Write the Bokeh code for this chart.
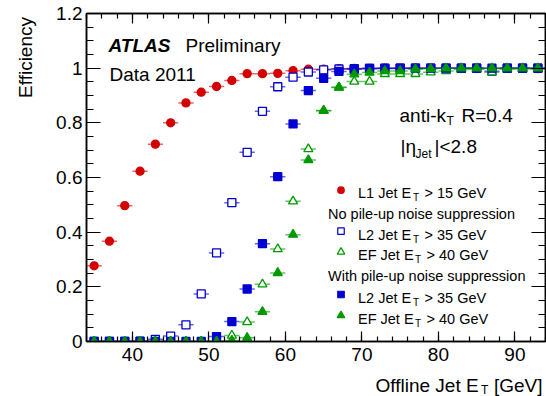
import math
from bokeh.plotting import figure
from bokeh.models import Range1d, LinearAxis, FixedTicker, CustomJSTickFormatter, Label
from bokeh.layouts import row, column
from bokeh.embed import file_html
from bokeh.resources import INLINE

# ---------------- data ----------------
et = [35, 37, 39, 41, 43, 45, 47, 49, 51, 53, 55, 57, 59, 61, 63, 65, 67, 69, 71, 73,
      75, 77, 79, 81, 83, 85, 87, 89, 91, 93]
half_bin = 1.0

l1_eff = [0.277, 0.367, 0.497, 0.623, 0.722, 0.800, 0.873, 0.912, 0.933, 0.955,
          0.980, 0.980, 0.981, 0.991, 0.996, 0.996, 0.998, 0.999, 0.999, 1.000,
          0.999, 1.000, 1.000, 1.000, 1.000, 1.000, 0.999, 1.000, 1.000, 0.998]
l2_nopu = [0.000, 0.000, 0.000, 0.001, 0.008, 0.020, 0.061, 0.174, 0.324, 0.508,
           0.692, 0.842, 0.932, 0.967, 0.986, 0.994, 0.997, 0.998, 0.999, 0.999,
           1.000, 1.000, 1.000, 1.000, 1.000, 1.000, 0.989, 1.000, 1.000, 1.000]
ef_nopu = [0.000, 0.000, 0.000, 0.000, 0.000, 0.000, 0.000, 0.000, 0.001, 0.022,
           0.071, 0.209, 0.338, 0.513, 0.704, 0.845, 0.930, 0.951, 0.951, 0.979,
           0.979, 0.979, 0.985, 0.990, 0.995, 0.996, 0.985, 0.996, 0.997, 0.998]
l2_pu = [0.000, 0.000, 0.000, 0.000, 0.000, 0.000, 0.000, 0.000, 0.018, 0.073,
         0.192, 0.358, 0.603, 0.796, 0.918, 0.963, 0.988, 0.996, 0.999, 1.000,
         1.000, 1.000, 1.000, 1.000, 1.000, 1.000, 1.000, 1.000, 1.000, 1.000]
ef_pu = [0.000, 0.000, 0.000, 0.000, 0.000, 0.000, 0.000, 0.000, 0.000, 0.004,
         0.014, 0.109, 0.251, 0.391, 0.664, 0.844, 0.929, 0.978, 0.984, 0.990,
         0.990, 0.996, 0.998, 1.000, 1.000, 1.000, 1.000, 1.000, 1.000, 1.000]

x_major = [40, 50, 60, 70, 80, 90]
x_minor = list(range(34, 95, 2))
y_major = [0, 0.2, 0.4, 0.6, 0.8, 1.0, 1.2]
y_minor = [round(0.05 * i, 2) for i in range(25)]

RED = "#d20000"
BLUE = "#0000d2"
GREEN = "#009a00"
FONT = "Liberation Sans"

X0, X1, Y0, Y1 = 34, 94, 0, 1.2

# page layout (pixels)
LEFT_W = 38
MAIN_W = 508
MAIN_H = 371
BOT_H = 25
FL, FR, FT, FB = 86, 545, 13, 341

p = figure(width=MAIN_W, height=MAIN_H, x_range=Range1d(X0, X1), y_range=Range1d(Y0, Y1),
           output_backend="svg", toolbar_location=None,
           min_border_left=FL - LEFT_W, min_border_right=LEFT_W + MAIN_W - FR,
           min_border_top=FT, min_border_bottom=MAIN_H - FB,
           x_axis_location=None, y_axis_location=None)
p.xgrid.visible = False
p.ygrid.visible = False
p.outline_line_color = "black"
p.outline_line_width = 1.5
p.background_fill_color = "white"
p.border_fill_color = "white"

fmt = CustomJSTickFormatter(code="var s = tick.toFixed(1); return s.endsWith('.0') ? s.slice(0, -2) : s;")
fmt_x = CustomJSTickFormatter(code="return tick.toFixed(0);")
blank = CustomJSTickFormatter(code="return '';")


def style_axis(ax, maj, mino, labels, formatter):
    ax.major_tick_in = maj
    ax.major_tick_out = 0
    ax.minor_tick_in = mino
    ax.minor_tick_out = 0
    ax.axis_line_width = 1.5
    ax.major_tick_line_width = 1.2
    ax.minor_tick_line_width = 1.2
    ax.formatter = formatter
    if labels:
        ax.major_label_text_font = FONT
        ax.major_label_text_font_size = "19px"
        ax.major_label_text_color = "black"
    else:
        ax.major_label_text_font_size = "1px"
        ax.major_label_standoff = 0


xb = LinearAxis(ticker=FixedTicker(ticks=x_major, minor_ticks=x_minor))
style_axis(xb, 10, 5, True, fmt_x)
xb.major_label_standoff = 6
p.add_layout(xb, "below")
xt = LinearAxis(ticker=FixedTicker(ticks=x_major, minor_ticks=x_minor))
style_axis(xt, 10, 5, False, blank)
p.add_layout(xt, "above")
yl = LinearAxis(ticker=FixedTicker(ticks=y_major, minor_ticks=y_minor))
style_axis(yl, 14, 7, True, fmt)
yl.major_label_standoff = 4
p.add_layout(yl, "left")
yr = LinearAxis(ticker=FixedTicker(ticks=y_major, minor_ticks=y_minor))
style_axis(yr, 14, 7, False, blank)
p.add_layout(yr, "right")

x_lo = [v - half_bin for v in et]
x_hi = [v + half_bin for v in et]

series = [
    (l1_eff, "circle", RED, RED, 8),
    (l2_nopu, "square", BLUE, "white", 8),
    (ef_nopu, "triangle", GREEN, "white", 9),
    (l2_pu, "square", BLUE, BLUE, 8),
    (ef_pu, "triangle", GREEN, GREEN, 9),
]
for vals, mk, lc, fc, sz in series:
    p.segment(x0=x_lo, x1=x_hi, y0=vals, y1=vals, line_color=lc, line_width=1.5, line_alpha=0.6)
    p.scatter(et, vals, marker=mk, size=sz, line_color=lc, fill_color=fc, line_width=1.3)


# ---------------- annotations (positions in page pixels) ----------------
def px(X):
    return X0 + (X - FL) / (FR - FL) * (X1 - X0)


def py(Y):
    return Y0 + (FB - Y) / (FB - FT) * (Y1 - Y0)


def mklabel(x, y, text, size="19px", style="normal", align="left", angle=0.0):
    return Label(x=x, y=y, text=text, text_font=FONT, text_font_size=size,
                 text_font_style=style, text_align=align, text_baseline="alphabetic",
                 text_color="black", angle=angle)


def lab(X, Y, text, **kw):
    p.add_layout(mklabel(px(X), py(Y), text, **kw))


lab(108, 45, "ATLAS", style="bold italic")
lab(185, 45, "Preliminary")
lab(109, 74, "Data 2011")
lab(399, 115, "anti-k")
lab(446, 120, "T", size="12px")
lab(461, 115, "R=0.4")
lab(400, 146, "|η")
lab(415, 153, "Jet", size="12px")
lab(434, 146, "|<2.8")

# legend
LS = "14.5px"
SS = "10px"
mx = 340.5
tx = 357.5
rows = [
    ("L1 Jet E", "> 15 GeV", 189.7, 192.0, "circle", RED, RED, 6.5, 412.5),
    ("L2 Jet E", "> 35 GeV", 230.7, 234.2, "square", BLUE, "white", 6.5, 412.5),
    ("EF Jet E", "> 40 GeV", 251.5, 254.5, "triangle", GREEN, "white", 7.5, 414.5),
    ("L2 Jet E", "> 35 GeV", 294.0, 297.0, "square", BLUE, BLUE, 6.5, 412.5),
    ("EF Jet E", "> 40 GeV", 315.0, 318.0, "triangle", GREEN, GREEN, 7.5, 414.5),
]
for t1, t2, ym, yb, mk, lc, fc, sz, xs in rows:
    p.scatter([px(mx)], [py(ym)], marker=mk, size=sz, line_color=lc, fill_color=fc, line_width=1.2)
    lab(tx, yb, t1, size=LS)
    lab(xs, yb + 4.5, "T", size=SS)
    lab(xs + 11.5, yb, t2, size=LS)
lab(327.5, 213.8, "No pile-up noise suppression", size=LS)
lab(327.5, 275.5, "With pile-up noise suppression", size=LS)


# ---------------- side figures for the axis titles ----------------
def blank_fig(w, h, fx0, fx1, fy_top, fy_bot, bl=0, br=0):
    f = figure(width=w, height=h, x_range=Range1d(fx0, fx1), y_range=Range1d(396 - fy_bot, 396 - fy_top),
               output_backend="svg", toolbar_location=None, title=None,
               min_border_left=bl, min_border_right=br, min_border_top=0, min_border_bottom=0,
               x_axis_location=None, y_axis_location=None)
    f.xgrid.visible = False
    f.ygrid.visible = False
    f.outline_line_color = None
    f.background_fill_color = "white"
    f.border_fill_color = "white"
    return f


left = blank_fig(LEFT_W, 396, 0, LEFT_W, 0, 396)
left.add_layout(mklabel(25, 396 - 16.5, "Efficiency", align="right", angle=math.pi / 2))

# bottom strip: its frame spans the same columns as the main frame
bottom = blank_fig(MAIN_W, BOT_H, FL, FR, MAIN_H, MAIN_H + BOT_H,
                   bl=FL - LEFT_W, br=LEFT_W + MAIN_W - FR)
bottom.add_layout(mklabel(375, 10.7, "Offline Jet E"))
bottom.add_layout(mklabel(480.5, 6.7, "T", size="12px"))
bottom.add_layout(mklabel(542, 10.7, "[GeV]", align="right"))

layout = row(left, column(p, bottom, spacing=0), spacing=0)

open("out.html", "w").write(file_html(layout, INLINE))
